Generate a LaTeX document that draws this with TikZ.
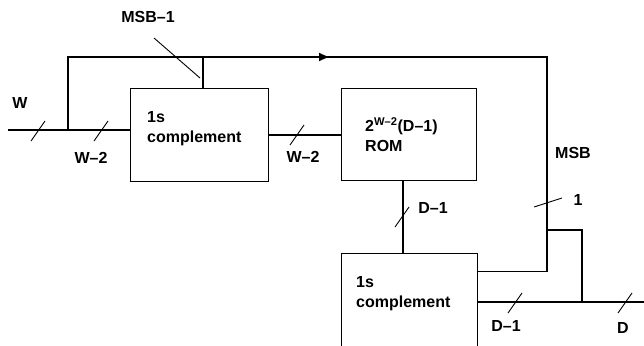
\documentclass[tikz,border=0pt]{standalone}
\usepackage{fontspec}
\setmainfont{Liberation Sans}
\usetikzlibrary{arrows.meta,calc}
\tikzset{
wire/.style={line width=1.8pt},
blk/.style={draw,line width=0.9pt,inner sep=0pt},
lbl/.style={font=\fontsize{16}{20}\selectfont\bfseries,inner sep=0pt},
tick/.style={line width=0.9pt}
}
\begin{document}
\begin{tikzpicture}[x=1pt,y=-1pt]
\useasboundingbox (0,0) rectangle (644,345);
\clip (0,0) rectangle (644,345);
\path
(8,130) coordinate (in)
(68,130) coordinate (J)
(68,57) coordinate (JT)
(203,57) coordinate (T)
(330,57) coordinate (arr)
(547,57) coordinate (R)
(547,230) coordinate (B)
(582,230) coordinate (BR)
(644,302) coordinate (out)
;
\node[blk,minimum width=138,minimum height=93] (cpl) at (199,134.5) {};
\node[blk,minimum width=135,minimum height=92] (rom) at (408.5,134) {};
\node[blk,minimum width=136,minimum height=110] (cplb) at (409,308) {};

\draw[wire] (in) -- (cpl.west |- in);
\draw[wire] (J) -- (JT) -- (R) |- ($(cplb.north east)+(0,19)$);
\draw[wire,-{Latex[length=11pt,width=9pt]}] (T) -- (arr);
\draw[wire] (T |- cpl.north) -- (T);
\draw[wire] (cpl.east |- 0,135) -- (rom.west |- 0,135);
\draw[wire] (rom.south -| 403,0) -- (cplb.north -| 403,0);
\draw[wire] (B) -- (BR) -- (BR |- out);
\draw[wire] (cplb.east |- out) -- (out);

\foreach \p in {(38,131),(101,131),(297,135),(402,217),(515,303),(625,303)}
\draw[tick] \p ++(-7,10) -- ++(14,-20);
\draw[tick] (534,207) -- (562,198);
\draw[tick] (154,38) -- (200,78);

\node[lbl,align=left,anchor=west] (tcpl) at (147,129) {1s\\complement};
\node[lbl,align=left,anchor=west] (trom) at (365,134.5) {2\textsuperscript{W--2}(D--1)\\ROM};
\node[lbl,align=left,anchor=west] (tcplb) at (356,294) {1s\\complement};

\node[lbl] (lw) at (20,103) {W};
\node[lbl] (lw2a) at (91,158) {W--2};
\node[lbl] (lmsb1) at (148,17) {MSB--1};
\node[lbl] (lw2b) at (303,157) {W--2};
\node[lbl] (ld1a) at (433,208) {D--1};
\node[lbl] (lmsb) at (573,153) {MSB};
\node[lbl] (lone) at (578,200) {1};
\node[lbl] (ld1b) at (506,326) {D--1};
\node[lbl] (ld) at (623,328) {D};
\end{tikzpicture}
\end{document}
